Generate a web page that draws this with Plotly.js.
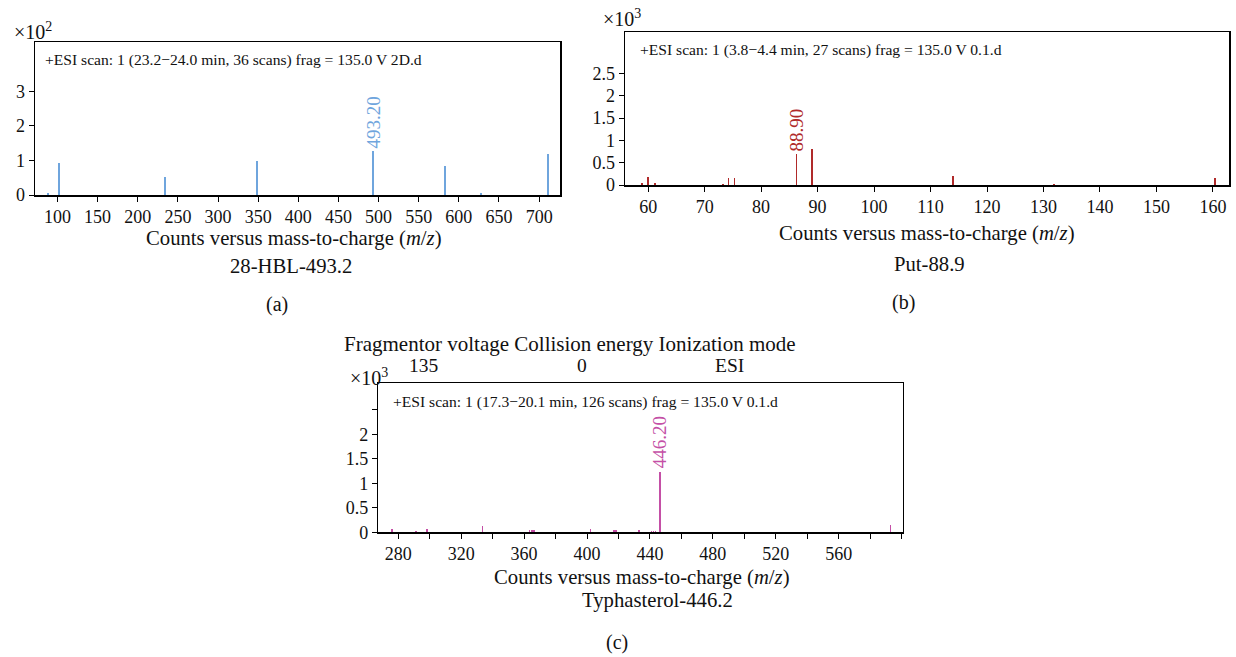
<!DOCTYPE html>
<html>
<head>
<meta charset="utf-8">
<script src="https://cdn.plot.ly/plotly-3.0.1.min.js"></script>
<style>
html,body{margin:0;padding:0;background:#fff;}
#chart{width:1236px;height:657px;}
</style>
</head>
<body>
<div id="chart"></div>
<script>
// ---- Panel (a): 28-HBL-493.2 (counts x10^2) ----
const mzA = [88.6, 101.5, 234.5, 348.4, 493.2, 582.8, 627.7, 711.0];
const countsA = [0.07, 0.94, 0.53, 0.98, 1.26, 0.84, 0.05, 1.18];
const peakA = {mz: 493.2, counts: 1.26, label: "493.20"};
const xticksA = [100,150,200,250,300,350,400,450,500,550,600,650,700];
const yticksA = [0,1,2,3];

// ---- Panel (b): Put-88.9 (counts x10^3) ----
const mzB = [58.9, 60.0, 61.2, 73.2, 74.2, 75.3, 86.3, 89.0, 114.0, 131.9, 160.4];
const countsB = [0.05, 0.17, 0.045, 0.03, 0.15, 0.15, 0.69, 0.80, 0.20, 0.02, 0.15];
const peakB = {mz: 86.3, counts: 0.69, label: "88.90"};
const xticksB = [60,70,80,90,100,110,120,130,140,150,160];
const yticksB = [0,0.5,1,1.5,2,2.5];

// ---- Panel (c): Typhasterol-446.2 (counts x10^3) ----
const mzC = [275.8, 291.2, 298.4, 333.6, 363.5, 365.0, 366.5, 402.3, 417.0, 418.5, 433.0, 441.0, 442.3, 443.5, 446.2, 593.0];
const countsC = [0.06, 0.02, 0.06, 0.13, 0.04, 0.04, 0.04, 0.07, 0.04, 0.04, 0.05, 0.03, 0.03, 0.03, 1.24, 0.15];
const peakC = {mz: 446.2, counts: 1.24, label: "446.20"};
const xticksC = [280,320,360,400,440,480,520,560];
const xminorC = [300,340,380,420,460,500,540,580,600];
const yticksC = [0,0.5,1,1.5,2];
const yminorC = [2.5];

const headerC = ["Fragmentor voltage Collision energy Ionization mode", "135", "0", "ESI"];

const W = 1236, H = 657;
const px = x => x / W;
const py = y => 1 - y / H;
const SERIF = "Liberation Serif, Times New Roman, serif";

const colA = "#6fa5dd", colB = "#b02a2a", colC = "#c44fa6";

const traces = [
  {type:"bar", x:mzA, y:countsA, xaxis:"x", yaxis:"y", width:2.4, marker:{color:colA, line:{width:0}}, hoverinfo:"x+y"},
  {type:"bar", x:mzB, y:countsB, xaxis:"x2", yaxis:"y2", width:0.28, marker:{color:colB, line:{width:0}}, hoverinfo:"x+y"},
  {type:"bar", x:mzC, y:countsC, xaxis:"x3", yaxis:"y3", width:1.1, marker:{color:colC, line:{width:0}}, hoverinfo:"x+y"}
];

function ax(domain, range, tickvals, anchor, minorVals){
  const a = {domain, range, anchor, tickmode:"array", tickvals, ticktext: tickvals.map(String),
    showline:true, mirror:true, linecolor:"#000", linewidth:1.5, ticks:"outside", ticklen:5,
    tickcolor:"#000", tickwidth:1, showgrid:false, zeroline:false,
    tickfont:{family:SERIF, size:18, color:"#111"}, fixedrange:true};
  if (minorVals) a.minor = {tickmode:"array", tickvals:minorVals, ticks:"outside", ticklen:5, tickcolor:"#000", tickwidth:1, showgrid:false};
  return a;
}

const ann = [];
function txt(x, y, text, size, opts){
  ann.push(Object.assign({xref:"paper", yref:"paper", x:px(x), y:py(y), text, showarrow:false,
    xanchor:"center", yanchor:"middle", font:{family:SERIF, size, color:"#111"}}, opts||{}));
}
const ESI = 15.6, TT = 20.7;
// Panel a texts
txt(12, 31, "×10<sup>2</sup>", 20, {xanchor:"left"});
txt(43, 60, "+ESI scan: 1 (23.2−24.0 min, 36 scans) frag = 135.0 V 2D.d", ESI, {xanchor:"left"});
txt(294, 238, "Counts versus mass-to-charge (<i>m</i>/<i>z</i>)", TT);
txt(291, 266, "28-HBL-493.2", TT);
txt(277, 304, "(a)", 20);
// Panel b texts
txt(601, 18, "×10<sup>3</sup>", 20, {xanchor:"left"});
txt(638, 50, "+ESI scan: 1 (3.8−4.4 min, 27 scans) frag = 135.0 V 0.1.d", ESI, {xanchor:"left"});
txt(927, 233, "Counts versus mass-to-charge (<i>m</i>/<i>z</i>)", TT);
txt(929, 264, "Put-88.9", TT);
txt(903, 302, "(b)", 20);
// Panel c texts
txt(570, 344, headerC[0], 21);
txt(423, 365, headerC[1], 19.5);
txt(582, 365, headerC[2], 19.5);
txt(729, 365, headerC[3], 19.5);
txt(348, 377, "×10<sup>3</sup>", 20, {xanchor:"left"});
txt(391, 402, "+ESI scan: 1 (17.3−20.1 min, 126 scans) frag = 135.0 V 0.1.d", ESI, {xanchor:"left"});
txt(642, 577, "Counts versus mass-to-charge (<i>m</i>/<i>z</i>)", TT);
txt(657, 600, "Typhasterol-446.2", TT);
txt(617, 642, "(c)", 20);

// Peak labels (rotated)
[[peakA,"x","y",colA],[peakB,"x2","y2",colB],[peakC,"x3","y3",colC]].forEach(([p,xr,yr,c])=>{
  ann.push({xref:xr, yref:yr, x:p.mz, y:p.counts, text:p.label, textangle:-90, showarrow:false,
    xanchor:"center", yanchor:"bottom", yshift:1, font:{family:SERIF, size:19, color:c}});
});

const layout = {
  width:W, height:H, margin:{l:0,r:0,t:0,b:0}, paper_bgcolor:"#fff", plot_bgcolor:"#fff",
  showlegend:false, bargap:0,
  xaxis: ax([px(35), px(560)], [72, 726], xticksA, "y"),
  yaxis: ax([py(195), py(42)], [0, 4.43], yticksA, "x"),
  xaxis2: ax([px(625), px(1229.3)], [55.9, 162.9], xticksB, "y2"),
  yaxis2: ax([py(185), py(32.3)], [0, 3.42], yticksB, "x2"),
  xaxis3: ax([px(378.3), px(902.7)], [267.3, 600.7], xticksC, "y3", xminorC),
  yaxis3: ax([py(532.3), py(383.3)], [0, 3.04], yticksC, "x3", yminorC),
  annotations: ann
};

Plotly.newPlot("chart", traces, layout, {staticPlot:true, displayModeBar:false});
</script>
</body>
</html>
